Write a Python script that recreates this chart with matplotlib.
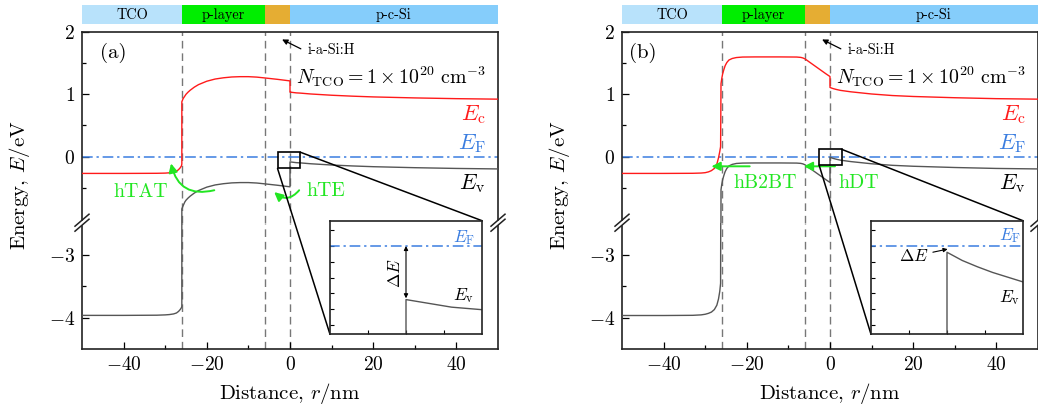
import matplotlib
matplotlib.use('Agg')
import matplotlib.pyplot as plt
from matplotlib.patches import Rectangle, ConnectionPatch
from matplotlib.lines import Line2D

plt.rcParams['font.family'] = 'serif'
plt.rcParams['font.serif'] = ['cmr10']
plt.rcParams['mathtext.fontset'] = 'cm'
plt.rcParams['axes.formatter.use_mathtext'] = True
plt.rcParams['font.size'] = 14

# layer stack (nm)
layer_edges = [-50, -26, -6, 0, 50]
layer_names = ['TCO', 'p-layer', '', 'p-c-Si']
layer_colors = ['#b8e2fb', '#00ee00', '#e5ad33', '#85cdfb']
interfaces = [-26, -6, 0]
e_fermi = 0.0

# panel (a) band edges
xa_c = [-50, -40, -32, -30, -29, -28, -27.3, -26.8, -26.4, -26.1, -26.0, -26.0, -25.7, -25.3, -25, -24.5,
        -24, -23, -22, -20, -18, -16, -14, -12, -10, -8, -6, -3, 0, 0, 0.5, 1, 1.5, 2.5, 5, 10, 15, 20, 30, 40, 50]
ec_a = [-0.27, -0.27, -0.268, -0.265, -0.26, -0.25, -0.235, -0.21, -0.18, -0.15, -0.12, 0.88, 0.93, 0.97, 1.0, 1.035,
        1.065, 1.115, 1.155, 1.21, 1.245, 1.265, 1.278, 1.283, 1.283, 1.276, 1.262, 1.24, 1.215, 1.035, 1.031, 1.027,
        1.023, 1.019, 1.005, 0.985, 0.97, 0.958, 0.942, 0.93, 0.922]
xa_v = xa_c
ev_a = [-3.963, -3.963, -3.96, -3.955, -3.95, -3.94, -3.925, -3.9, -3.87, -3.84, -3.82, -0.84, -0.79, -0.73, -0.70,
        -0.665, -0.635, -0.585, -0.545, -0.49, -0.455, -0.435, -0.422, -0.417, -0.417, -0.424, -0.438, -0.46, -0.485,
        -0.085, -0.089, -0.093, -0.097, -0.101, -0.115, -0.135, -0.15, -0.162, -0.178, -0.19, -0.198]

# panel (b) band edges
xb_c = [-50, -40, -33, -31, -30, -29.2, -28.5, -27.8, -27.2, -26.8, -26.5, -26.3, -26.2, -26.0, -25.8, -25.5,
        -25.2, -24.8, -24.3, -23.5, -22.5, -21, -18, -12, -8, -7, -6.5, -6, -5, -3, -1, 0, 0, 0.5, 1, 1.5, 2.5,
        5, 10, 15, 20, 30, 40, 50]
ec_b = [-0.27, -0.27, -0.268, -0.264, -0.258, -0.245, -0.225, -0.19, -0.12, -0.02, 0.08, 0.16, 1.17, 1.26, 1.33,
        1.40, 1.46, 1.51, 1.55, 1.575, 1.59, 1.598, 1.6, 1.6, 1.598, 1.592, 1.583, 1.568, 1.52, 1.425, 1.33, 1.285,
        1.11, 1.097, 1.087, 1.078, 1.063, 1.04, 1.005, 0.98, 0.965, 0.945, 0.93, 0.922]
xb_v = xb_c
ev_b = [-3.965, -3.965, -3.962, -3.955, -3.945, -3.93, -3.91, -3.87, -3.8, -3.7, -3.58, -3.45, -0.53, -0.44, -0.37,
        -0.30, -0.24, -0.19, -0.15, -0.125, -0.11, -0.104, -0.102, -0.102, -0.104, -0.109, -0.117, -0.132, -0.18,
        -0.275, -0.37, -0.415, -0.01, -0.023, -0.033, -0.042, -0.057, -0.08, -0.115, -0.14, -0.155, -0.175, -0.19,
        -0.198]

W, H = 1038, 409
fig = plt.figure(figsize=(W / 100, H / 100), dpi=100)


def fx(px):
    return px / W


def fy(py):
    return 1 - py / H


top_px, brk_px, bot_px = 32, 222.7, 349
lim_top = (2 - (brk_px - top_px) / 62.3, 2)
lim_bot = (-4.5, -4.5 + (bot_px - brk_px) / 62.6)

red = '#ff1a1a'
grey = '#555555'
blue = '#3a7de0'
green = '#22e622'
spine_c = '#222222'


def panel(left, xc, ec, xv, ev, tag, tag_x, rect, inset_left, arrows, zoom_txt):
    axw = 416
    ax_t = fig.add_axes([fx(left), fy(brk_px), fx(axw), (brk_px - top_px) / H])
    ax_b = fig.add_axes([fx(left), fy(bot_px), fx(axw), (bot_px - brk_px) / H])
    for ax, lim in ((ax_t, lim_top), (ax_b, lim_bot)):
        ax.plot(xc, ec, color=red, lw=1.0, zorder=3)
        ax.plot(xv, ev, color=grey, lw=1.0, zorder=3)
        ax.plot([-50, 50], [e_fermi, e_fermi], color=blue, lw=1.1, dashes=(7, 2.5, 1.5, 2.5), zorder=2)
        for xi in interfaces:
            ax.axvline(xi, color='#777777', lw=1.0, dashes=(5.5, 3.5), zorder=1)
        ax.set_xlim(-50, 50)
        ax.set_ylim(*lim)
        ax.patch.set_alpha(0)
        for s in ax.spines.values():
            s.set_color(spine_c)
            s.set_linewidth(1.2)
        ax.tick_params(direction='in', which='both', width=0.9, labelsize=14, pad=5, top=False, right=False)
        ax.tick_params(which='major', length=5)
        ax.tick_params(which='minor', length=3)
    gap = 0.05
    ax_t.spines['bottom'].set_visible(False)
    ax_b.spines['top'].set_visible(False)
    ax_t.spines['left'].set_bounds(lim_top[0] + gap, 2)
    ax_t.spines['right'].set_bounds(lim_top[0] + gap, 2)
    ax_b.spines['left'].set_bounds(lim_bot[0], lim_bot[1] - gap)
    ax_b.spines['right'].set_bounds(lim_bot[0], lim_bot[1] - gap)
    ax_t.tick_params(bottom=False, labelbottom=False)
    ax_t.set_yticks([0, 1, 2])
    ax_t.set_yticks([-0.5, 0.5, 1.5], minor=True)
    ax_t.set_xticks([])
    ax_b.set_yticks([-4, -3])
    ax_b.set_yticks([-3.5], minor=True)
    ax_b.set_xticks([-40, -20, 0, 20, 40])
    ax_b.set_xticks([-30, -10, 10, 30], minor=True)

    # break marks
    for xs in (left, left + axw):
        for dy in (-2.5, 2.5):
            yc = brk_px + dy
            fig.add_artist(Line2D([fx(xs - 7), fx(xs + 7)], [fy(yc + 6), fy(yc - 6)],
                                  color=spine_c, lw=1.1))

    # layer bar
    bar = fig.add_axes([fx(left), fy(24.3), fx(axw), (24.3 - 5) / H])
    for i, name in enumerate(layer_names):
        bar.axvspan(layer_edges[i], layer_edges[i + 1], color=layer_colors[i], lw=0)
        if name:
            bar.text((layer_edges[i] + layer_edges[i + 1]) / 2, 0.5, name, ha='center', va='center', fontsize=10.3)
    bar.set_xlim(-50, 50)
    bar.set_ylim(0, 1)
    bar.axis('off')

    # labels
    ax_t.text(tag_x, 1.66, tag, ha='center', va='center', fontsize=15)
    ax_t.text(1.5, 1.28, r'$N_{\mathrm{TCO}}=1\times10^{20}\ \mathrm{cm}^{-3}$', ha='left', va='center', fontsize=14.3)
    ax_t.annotate('', xy=(-2.5, 1.9), xytext=(3.2, 1.71),
                  arrowprops=dict(arrowstyle='-|>', color='k', lw=0.9, mutation_scale=8))
    ax_t.text(4.2, 1.71, 'i-a-Si:H', ha='left', va='center', fontsize=10.3)
    ax_t.text(47, 0.67, r'$E_{\mathrm{c}}$', color=red, ha='right', va='center', fontsize=16)
    ax_t.text(47, 0.21, r'$E_{\mathrm{F}}$', color=blue, ha='right', va='center', fontsize=16)
    ax_t.text(47, -0.43, r'$E_{\mathrm{v}}$', color='k', ha='right', va='center', fontsize=16)
    for (txt, tx, ty), (head, tail, rad) in zip(arrows[0], arrows[1]):
        ax_t.text(tx, ty, txt, color=green, ha='center', va='center', fontsize=14.3)
        ax_t.annotate('', xy=head, xytext=tail,
                      arrowprops=dict(arrowstyle='-|>', color=green, lw=1.4, mutation_scale=13,
                                      connectionstyle='arc3,rad=%s' % rad, shrinkA=0, shrinkB=0))

    # zoom rectangle and inset
    rx0, ry0, rx1, ry1 = rect
    ax_t.add_patch(Rectangle((rx0, ry0), rx1 - rx0, ry1 - ry0, fill=False, ec='k', lw=1.2, zorder=4))
    ins = fig.add_axes([fx(inset_left), fy(334.3), fx(152), (334.3 - 220.7) / H], zorder=5)
    ins.plot(xv, ev, color=grey, lw=1.0)
    ins.plot([-50, 50], [e_fermi, e_fermi], color=blue, lw=1.1, dashes=(7, 2.5, 1.5, 2.5))
    ins.set_xlim(-2.5, 2.5)
    ins.set_ylim(-0.14, 0.04)
    ins.set_xticks([-1.25, 0, 1.25])
    ins.set_yticks([-0.125, -0.1, -0.075, -0.05, -0.025, 0, 0.025])
    ins.tick_params(direction='in', length=3, width=0.8, labelbottom=False, labelleft=False)
    for s in ins.spines.values():
        s.set_color(spine_c)
        s.set_linewidth(1.2)
    ins.text(zoom_txt['ef'][0], zoom_txt['ef'][1], r'$E_{\mathrm{F}}$', color=blue, ha='center', va='center',
             fontsize=12.5)
    ins.text(zoom_txt['ev'][0], zoom_txt['ev'][1], r'$E_{\mathrm{v}}$', color='k', ha='center', va='center',
             fontsize=12.5)
    ev_jump = ev[xv.index(0) + 1]
    if zoom_txt['mode'] == 'vertical':
        ins.annotate('', xy=(0, e_fermi), xytext=(0, ev_jump + 0.002),
                     arrowprops=dict(arrowstyle='<|-|>', color='k', lw=0.8, mutation_scale=6, shrinkA=0, shrinkB=0))
        ins.text(-0.35, (e_fermi + ev_jump) / 2, r'$\Delta E$', rotation=90, ha='center', va='center',
                 fontsize=12.5)
    else:
        ins.annotate(r'$\Delta E$', xy=(0.02, (e_fermi + ev_jump) / 2), xytext=(-0.6, -0.0163),
                     ha='right', va='center', fontsize=12.5,
                     arrowprops=dict(arrowstyle='-|>', color='k', lw=0.8, mutation_scale=6, shrinkA=1, shrinkB=0))
    fig.add_artist(ConnectionPatch(xyA=(rx1, ry1), coordsA=ax_t.transData, xyB=(1, 1), coordsB=ins.transAxes,
                                   color='k', lw=1.1))
    fig.add_artist(ConnectionPatch(xyA=(rx0, ry0), coordsA=ax_t.transData, xyB=(0, 0), coordsB=ins.transAxes,
                                   color='k', lw=1.1))

    fig.text(fx(left - 62), fy(185), r'Energy, $E/\mathrm{eV}$', rotation=90, ha='center', va='center',
             fontsize=15)
    fig.text(fx(left + axw / 2), fy(393), r'Distance, $r/\mathrm{nm}$', ha='center', va='center', fontsize=15)


panel(82, xa_c, ec_a, xa_v, ev_a, '(a)', -42.5, (-3, -0.19, 2.5, 0.07), 330,
      ([('hTAT', -36, -0.57), ('hTE', 8.5, -0.55)],
       [((-28.6, -0.11), (-18.2, -0.54), -0.5), ((-3.8, -0.57), (2.2, -0.54), -0.5)]),
      {'ef': (1.92, 0.0127), 'ev': (1.9, -0.078), 'mode': 'vertical'})
panel(622, xb_c, ec_b, xb_v, ev_b, '(b)', -45, (-2.6, -0.14, 2.8, 0.117), 871,
      ([('hB2BT', -15.5, -0.43), ('hDT', 6.8, -0.43)],
       [((-28.5, -0.156), (-19.3, -0.156), 0), ((-6.3, -0.156), (1.2, -0.156), 0)]),
      {'ef': (2.06, 0.0158), 'ev': (2.06, -0.081), 'mode': 'side'})

fig.savefig('out.png', dpi=100)
